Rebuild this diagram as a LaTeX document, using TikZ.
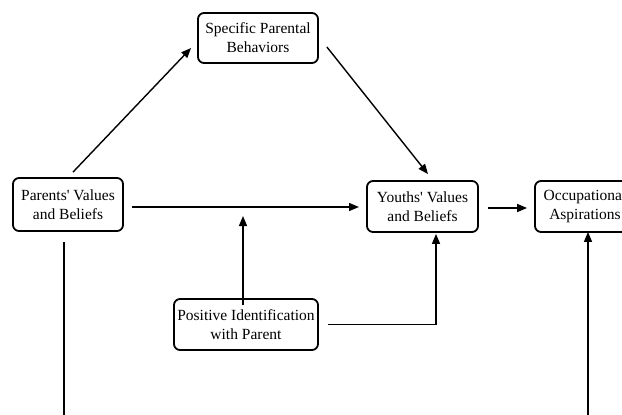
\documentclass[tikz,border=0pt]{standalone}
\usepackage{fontspec}
\setmainfont{Liberation Serif}[Ligatures=TeXOff]
\usetikzlibrary{arrows.meta}
\begin{document}
\begin{tikzpicture}[x=1pt,y=-1pt,
  box/.style={draw,line width=1.8pt,rounded corners=6pt,align=center,inner sep=0pt,
    font=\fontsize{15.5}{19}\selectfont},
  arr/.style={line width=1.4pt,-{Triangle[length=10pt,width=8pt]}},
  ln/.style={line width=1.4pt}]
\useasboundingbox (0,0) rectangle (622,415);
\node[box,minimum width=110pt,minimum height=53pt] (par) at (68,204.5) {Parents' Values\\and Beliefs};
\node[box,minimum width=120pt,minimum height=50pt] (spec) at (258,38) {Specific Parental\\Behaviors};
\node[box,minimum width=111pt,minimum height=51pt] (you) at (422.5,206.5) {Youths' Values\\and Beliefs};
\node[box,minimum width=100pt,minimum height=51pt] (occ) at (585,206.5) {Occupational\\Aspirations};
\node[box,minimum width=144pt,minimum height=51pt] (pos) at (246,324.5) {Positive Identification\\with Parent};
\coordinate (h1) at (132,207);
\coordinate (h2) at (359,207);
\coordinate (hm) at (243,216);
\coordinate (lb) at (64,420);
\coordinate (rb) at (588,420);
\draw[arr] ([shift={(5,-5)}]par.north) -- ([shift={(-6,10)}]spec.west);
\draw[arr] ([shift={(8,9)}]spec.east) -- ([shift={(5.5,-6)}]you.north);
\draw[arr] (h1) -- (h2);
\draw[arr] ([yshift=-7]pos.north -| hm) -- (hm);
\draw[arr] ([xshift=9]pos.east) -| ([shift={(13.5,1)}]you.south);
\draw[arr] ([shift={(9,1.5)}]you.east) -- ([shift={(-7,1.5)}]occ.west);
\draw[ln] ([shift={(-4,10)}]par.south) -- (lb);
\draw[arr] (rb) -- ([yshift=1]occ.south -| rb);
\end{tikzpicture}
\end{document}
